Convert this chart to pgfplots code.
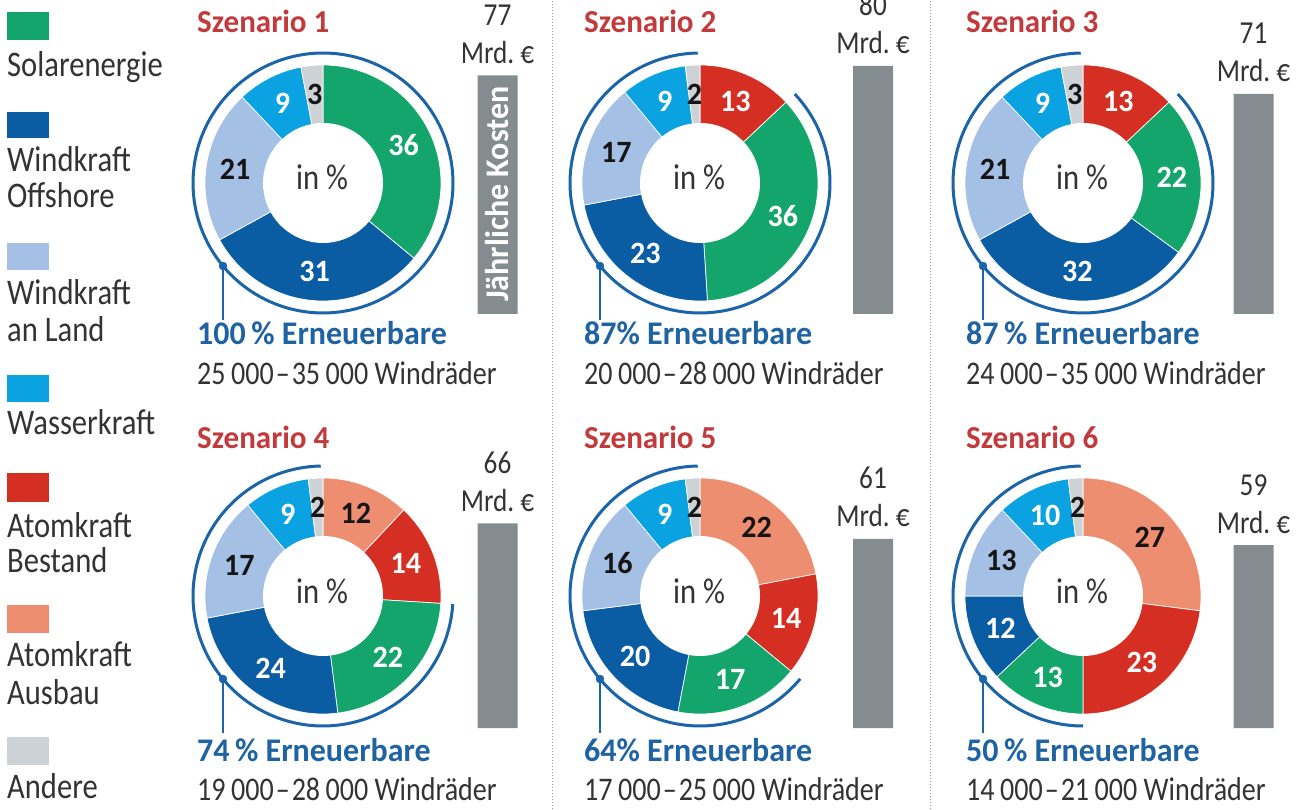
\documentclass[border=0pt]{standalone}
\usepackage{pgfplots}
\pgfplotsset{compat=1.18}
\usepackage{fontspec}
\setmainfont{Carlito}[FakeStretch=0.85]
\newfontfamily\bdfont{Carlito}[FakeStretch=0.97]
\definecolor{cso}{HTML}{13A56B}
\definecolor{cof}{HTML}{0B5DA3}
\definecolor{cla}{HTML}{A5C0E5}
\definecolor{cwa}{HTML}{0AA2E0}
\definecolor{cab}{HTML}{D42F22}
\definecolor{caa}{HTML}{EE8E70}
\definecolor{can}{HTML}{CDD2D7}
\definecolor{cbar}{HTML}{858C8F}
\definecolor{cring}{HTML}{1B64A8}
\definecolor{cred}{HTML}{C23A3C}
\definecolor{cblue}{HTML}{1F63A2}
\definecolor{ctext}{HTML}{333333}
\definecolor{cdark}{HTML}{151515}
\newcommand\rg[1]{\fontsize{#1pt}{#1pt}\selectfont}
\newcommand\bd[1]{\bdfont\bfseries\fontsize{#1pt}{#1pt}\selectfont}
\newcommand\numfont{\bd{31}}
\newcommand\dash{\kern2pt–\kern2pt}
% #1 cx, #2 cy, #3 list value/colour/labelcolour, clockwise from the top
\newcommand\donut[3]{%
  \xdef\acc{90}%
  \foreach \vv/\cc/\tc in {#3}{%
    \pgfmathsetmacro\aS{\acc}%
    \pgfmathsetmacro\aE{\acc-3.6*\vv}%
    \edef\tmp{\noexpand\addplot[fill=\cc, draw=white, line width=0.7pt, domain=\aE:\aS, samples=60] ({#1+118*cos(x)},{#2+118*sin(x)}) -- (axis cs:#1,#2) -- cycle;}%
    \tmp
    \xdef\acc{\aE}%
  }%
  \addplot[fill=white, draw=none, domain=0:360, samples=90] ({#1+60*cos(x)},{#2+60*sin(x)}) -- cycle;
  \xdef\acc{90}%
  \foreach \vv/\cc/\tc in {#3}{%
    \pgfmathsetmacro\aS{\acc}%
    \pgfmathsetmacro\aE{\acc-3.6*\vv}%
    \pgfmathsetmacro\lx{#1+89*cos((\aS+\aE)/2)}%
    \pgfmathsetmacro\ly{#2+89*sin((\aS+\aE)/2)}%
    \edef\tmp{\noexpand\node[text=\tc, font=\noexpand\numfont, inner sep=0pt] at (axis cs:\lx,\ly) {\vv};}%
    \tmp
    \xdef\acc{\aE}%
  }%
}
\begin{document}
\begin{tikzpicture}[x=1pt,y=1pt]
\useasboundingbox (0,0) rectangle (1307,809);
% dotted separators
\draw[color=black!40, line width=1pt, dash pattern=on 1pt off 2pt] (552,0) -- (552,809);
\draw[color=black!40, line width=1pt, dash pattern=on 1pt off 2pt] (930,0) -- (930,809);
% legend
\foreach \c/\ya/\yb in {cso/769/797, cof/671/697, cla/539/566, cwa/407/434, cab/307/336, caa/176/204, can/44/72}
  \fill[\c] (7,\ya) rectangle (49,\yb);
\begin{scope}[every node/.style={anchor=base west, inner sep=0pt, text=ctext, font=\rg{36}}]
\node at (7,732) {Solarenergie};
\node at (7,637) {Windkraft};
\node at (7,601) {Offshore};
\node at (7,504) {Windkraft};
\node at (7,467) {an Land};
\node at (7,374) {Wasserkraft};
\node at (7,271) {Atomkraft};
\node at (7,236) {Bestand};
\node at (7,142) {Atomkraft};
\node at (7,104) {Ausbau};
\node at (7,11) {Andere};
\end{scope}
% donuts
\begin{axis}[at={(0pt,0pt)}, anchor=south west, width=1307pt, height=809pt, scale only axis,
  xmin=0, xmax=1307, ymin=0, ymax=809, hide axis, clip=false]
\donut{323}{626}{36/cso/white, 31/cof/white, 21/cla/cdark, 9/cwa/white, 3/can/cdark}
\donut{700}{626}{13/cab/white, 36/cso/white, 23/cof/white, 17/cla/cdark, 9/cwa/white, 2/can/cdark}
\donut{1083}{626}{13/cab/white, 22/cso/white, 32/cof/white, 21/cla/cdark, 9/cwa/white, 3/can/cdark}
\donut{323}{213}{12/caa/cdark, 14/cab/white, 22/cso/white, 24/cof/white, 17/cla/cdark, 9/cwa/white, 2/can/cdark}
\donut{700}{213}{22/caa/cdark, 14/cab/white, 17/cso/white, 20/cof/white, 16/cla/cdark, 9/cwa/white, 2/can/cdark}
\donut{1083}{213}{27/caa/cdark, 23/cab/white, 13/cso/white, 12/cof/white, 13/cla/cdark, 10/cwa/white, 2/can/cdark}
% renewable arcs (100, 87, 87, 74, 64, 50 %)
\addplot[cring, line width=3pt, domain=0:360, samples=140] ({323+130*cos(x)},{626+130*sin(x)});
\addplot[cring, line width=3pt, domain=-269:43.2, samples=140] ({700+130*cos(x)},{626+130*sin(x)});
\addplot[cring, line width=3pt, domain=-269:43.2, samples=140] ({1083+130*cos(x)},{626+130*sin(x)});
\addplot[cring, line width=3pt, domain=-269:-3.6, samples=140] ({323+130*cos(x)},{213+130*sin(x)});
\addplot[cring, line width=3pt, domain=-269:-39.6, samples=140] ({700+130*cos(x)},{213+130*sin(x)});
\addplot[cring, line width=3pt, domain=-269:-90, samples=140] ({1083+130*cos(x)},{213+130*sin(x)});
% connector lines and dots
\addplot[cring, line width=2pt] coordinates {(223,543) (223,489)};
\addplot[cring, line width=2pt] coordinates {(600,543) (600,489)};
\addplot[cring, line width=2pt] coordinates {(983,543) (983,489)};
\addplot[cring, line width=2pt] coordinates {(223,130) (223,76)};
\addplot[cring, line width=2pt] coordinates {(600,130) (600,76)};
\addplot[cring, line width=2pt] coordinates {(983,130) (983,76)};
\addplot[only marks, mark=*, mark size=4pt, cring] coordinates {(223,543) (600,543) (983,543) (223,130) (600,130) (983,130)};
% centre texts
\foreach \cx/\cy in {322/619, 699/619, 1082/619, 322/205, 699/205, 1082/205}{
  \edef\tmp{\noexpand\node[anchor=base, inner sep=0pt, text=ctext, font=\noexpand\rg{36}] at (axis cs:\cx,\cy) {in \noexpand\%};}\tmp
}
\end{axis}
% cost bars, top row
\begin{axis}[at={(0pt,495pt)}, anchor=south west, width=1307pt, height=248pt, scale only axis,
  xmin=0, xmax=1307, ymin=0, ymax=80, hide axis, clip=false, ybar, bar width=40pt,
  nodes near coords={\begin{tabular}[b]{@{}c@{}}\pgfmathprintnumber[assume math mode=true]{\pgfplotspointmeta}\\Mrd.~€\end{tabular}},
  every node near coord/.append style={anchor=base, yshift=12pt, inner sep=0pt, text=ctext, font=\fontsize{32pt}{38pt}\selectfont}]
\addplot[fill=cbar, draw=none] coordinates {(497.5,77) (873,80) (1253.5,71)};
\node[rotate=90, text=white, font=\bd{33}, inner sep=0pt] at (axis cs:497.5,38.7) {Jährliche Kosten};
\end{axis}
% cost bars, bottom row
\begin{axis}[at={(0pt,81pt)}, anchor=south west, width=1307pt, height=248pt, scale only axis,
  xmin=0, xmax=1307, ymin=0, ymax=80, hide axis, clip=false, ybar, bar width=40pt,
  nodes near coords={\begin{tabular}[b]{@{}c@{}}\pgfmathprintnumber[assume math mode=true]{\pgfplotspointmeta}\\Mrd.~€\end{tabular}},
  every node near coord/.append style={anchor=base, yshift=12pt, inner sep=0pt, text=ctext, font=\fontsize{32pt}{38pt}\selectfont}]
\addplot[fill=cbar, draw=none] coordinates {(497.5,66) (873,61) (1253.5,59)};
\end{axis}
% scenario texts
\begin{scope}[every node/.style={anchor=base west, inner sep=0pt}]
\node[text=cred, font=\bd{32}] at (197,776) {Szenario 1};
\node[text=cred, font=\bd{32}] at (584,776) {Szenario 2};
\node[text=cred, font=\bd{32}] at (966,776) {Szenario 3};
\node[text=cred, font=\bd{32}] at (197,360) {Szenario 4};
\node[text=cred, font=\bd{32}] at (584,360) {Szenario 5};
\node[text=cred, font=\bd{32}] at (966,360) {Szenario 6};
\node[text=cblue, font=\bd{33}] at (197,464) {100\,\% Erneuerbare};
\node[text=cblue, font=\bd{33}] at (584,464) {87\% Erneuerbare};
\node[text=cblue, font=\bd{33}] at (966,464) {87\,\% Erneuerbare};
\node[text=cblue, font=\bd{33}] at (197,48) {74\,\% Erneuerbare};
\node[text=cblue, font=\bd{33}] at (584,48) {64\% Erneuerbare};
\node[text=cblue, font=\bd{33}] at (966,48) {50\,\% Erneuerbare};
\node[text=ctext, font=\rg{33}] at (197,424) {25\,000\dash35\,000 Windräder};
\node[text=ctext, font=\rg{33}] at (584,424) {20\,000\dash28\,000 Windräder};
\node[text=ctext, font=\rg{33}] at (966,424) {24\,000\dash35\,000 Windräder};
\node[text=ctext, font=\rg{33}] at (197,9) {19\,000\dash28\,000 Windräder};
\node[text=ctext, font=\rg{33}] at (584,9) {17\,000\dash25\,000 Windräder};
\node[text=ctext, font=\rg{33}] at (966,9) {14\,000\dash21\,000 Windräder};
\end{scope}
\end{tikzpicture}
\end{document}
